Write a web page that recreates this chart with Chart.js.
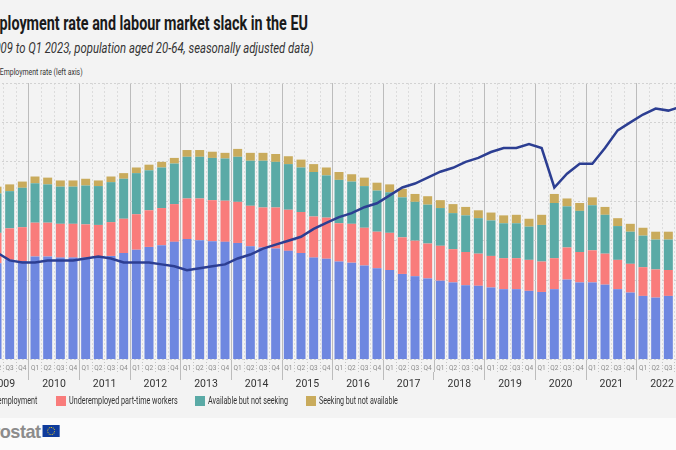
<!DOCTYPE html>
<html>
<head>
<meta charset="utf-8">
<script src="https://cdn.jsdelivr.net/npm/chart.js@4.4.1/dist/chart.umd.min.js"></script>
<style>
  html, body { margin: 0; padding: 0; width: 676px; height: 450px; overflow: hidden; background: #fbfbfb; }
  body { position: relative; font-family: Roboto, "Liberation Sans", sans-serif; color: #222; }
  #panel { position: absolute; left: 0; top: 0; width: 676px; height: 418px; background: #f3f3f3; }
  .txt { position: absolute; white-space: nowrap; transform-origin: 0 0; }
  #title { top: 11px; font-size: 20px; font-weight: bold; line-height: 24px; color: #1a1a1a; }
  #subtitle { top: 39px; font-size: 15px; font-style: italic; line-height: 18px; color: #333; }
  #lineLegend { top: 66px; font-size: 9.5px; line-height: 12px; color: #333; }
  #lineLegend .sw { display: inline-block; width: 18px; height: 3px; background: #2c3e92; vertical-align: middle; margin-right: 5px; }
  #wrap { position: absolute; left: -62px; top: 0; width: 802px; height: 400px; }
  .leg { position: absolute; top: 396px; height: 10px; }
  .leg .box { position: absolute; left: 0; top: 0; width: 10px; height: 10px; }
  .leg .t { position: absolute; left: 13px; top: -1px; font-size: 11px; line-height: 12px; color: #333; white-space: nowrap; transform-origin: 0 0; }
  #logo { top: 421px; font-family: "Liberation Sans", Arial, sans-serif; font-weight: bold; font-size: 19px; color: #8c8c8c; letter-spacing: -0.5px; line-height: 22px; }
  #logo .flag { display: inline-block; width: 18px; height: 12px; background: #0e3b9c; vertical-align: 1px; margin-left: 2px; position: relative; }
  #logo .flag::after { content: ""; position: absolute; left: 5px; top: 2px; width: 6px; height: 6px; border: 1px dotted #f4d21c; border-radius: 50%; }
</style>
</head>
<body>
<div id="panel"></div>
<div id="title" class="txt"><span class="cut">Em</span>ployment rate and labour market slack in the EU</div>
<div id="subtitle" class="txt"><span class="cut">(Q1 20</span>09 to Q1 2023, population aged 20-64, seasonally adjusted data)</div>
<div id="lineLegend" class="txt"><span class="cut"><span class="sw"></span></span>Employment rate (left axis)</div>
<div id="wrap"><canvas id="c"></canvas></div>
<div id="legend"></div>
<div id="logo" class="txt"><span class="cut">eur</span>ostat<span class="flag"></span></div>
<script>
const quarters = [
  '2009-Q1','2009-Q2','2009-Q3','2009-Q4','2010-Q1','2010-Q2','2010-Q3','2010-Q4',
  '2011-Q1','2011-Q2','2011-Q3','2011-Q4','2012-Q1','2012-Q2','2012-Q3','2012-Q4',
  '2013-Q1','2013-Q2','2013-Q3','2013-Q4','2014-Q1','2014-Q2','2014-Q3','2014-Q4',
  '2015-Q1','2015-Q2','2015-Q3','2015-Q4','2016-Q1','2016-Q2','2016-Q3','2016-Q4',
  '2017-Q1','2017-Q2','2017-Q3','2017-Q4','2018-Q1','2018-Q2','2018-Q3','2018-Q4',
  '2019-Q1','2019-Q2','2019-Q3','2019-Q4','2020-Q1','2020-Q2','2020-Q3','2020-Q4',
  '2021-Q1','2021-Q2','2021-Q3','2021-Q4','2022-Q1','2022-Q2','2022-Q3','2022-Q4',
  '2023-Q1'
];
const years = ['2009','2010','2011','2012','2013','2014','2015','2016','2017','2018','2019','2020','2021','2022','2023'];
// index of the middle of each year on the quarter axis
const yearCentres = [1.5, 5.5, 9.5, 13.5, 17.5, 21.5, 25.5, 29.5, 33.5, 37.5, 41.5, 45.5, 49.5, 53.5, 56];

// % of extended labour force (right axis)
const unemployment = [
  7.9, 8.5, 8.8, 8.7,   9.1, 9.1, 9.0, 9.0,   9.0, 9.0, 9.15, 9.4,   9.7, 9.95, 10.1, 10.4,
  10.65, 10.55, 10.45, 10.4,   10.3, 10.0, 9.9, 9.8,   9.6, 9.4, 9.0, 8.9,   8.65, 8.55, 8.3, 8.05,
  7.9, 7.55, 7.35, 7.15,   6.95, 6.8, 6.55, 6.5,   6.35, 6.2, 6.2, 6.05,   5.95, 6.2, 7.05, 6.8,
  6.8, 6.6, 6.2, 5.9,   5.6, 5.45, 5.6, 5.55,   5.6
];
const underemployed = [
  2.6, 2.7, 2.8, 3.0,   3.0, 3.0, 3.0, 3.0,   2.95, 2.9, 3.0, 3.05,   3.15, 3.25, 3.3, 3.35,
  3.6, 3.7, 3.65, 3.65,   3.65, 3.6, 3.55, 3.65,   3.65, 3.65, 3.65, 3.65,   3.4, 3.45, 3.35, 3.25,
  3.3, 3.25, 3.15, 3.1,   3.1, 2.95, 2.95, 2.85,   2.8, 2.75, 2.75, 2.75,   2.7, 2.75, 2.85, 2.7,
  2.85, 2.75, 2.6, 2.55,   2.55, 2.5, 2.3, 2.3,   2.35
];
const availableNotSeeking = [
  3.4, 3.5, 3.3, 3.5,   3.5, 3.4, 3.3, 3.3,   3.45, 3.45, 3.55, 3.55,   3.65, 3.55, 3.6, 3.6,
  3.7, 3.7, 3.75, 3.75,   4.0, 4.0, 4.15, 4.05,   4.05, 3.95, 3.95, 3.75,   3.85, 3.75, 3.7, 3.65,
  3.6, 3.55, 3.45, 3.45,   3.35, 3.2, 3.25, 3.15,   3.15, 3.1, 3.1, 2.95,   3.25, 4.9, 3.65, 3.65,
  4.0, 3.45, 3.0, 2.85,   2.8, 2.65, 2.7, 2.65,   2.7
];
const seekingNotAvailable = [
  0.6, 0.6, 0.6, 0.55,   0.6, 0.6, 0.55, 0.55,   0.6, 0.5, 0.5, 0.5,   0.5, 0.5, 0.5, 0.5,
  0.6, 0.6, 0.55, 0.5,   0.7, 0.7, 0.7, 0.7,   0.7, 0.7, 0.7, 0.7,   0.7, 0.65, 0.75, 0.7,
  0.7, 0.75, 0.7, 0.75,   0.7, 0.8, 0.75, 0.7,   0.7, 0.7, 0.75, 0.7,   0.9, 0.8, 0.7, 0.7,
  0.7, 0.7, 0.7, 0.7,   0.7, 0.7, 0.7, 0.7,   0.7
];
// % of population aged 20-64 (left axis)
const employmentRate = [
  67.6, 67.4, 67.0, 66.9,   66.9, 67.0, 67.0, 67.0,   67.1, 67.2, 67.1, 66.9,   66.9, 66.9, 66.8, 66.7,
  66.5, 66.6, 66.7, 66.8,   67.1, 67.3, 67.6, 67.8,   68.0, 68.2, 68.6, 68.9,   69.2, 69.4, 69.7, 69.9,
  70.3, 70.7, 70.9, 71.2,   71.5, 71.7, 72.0, 72.2,   72.5, 72.7, 72.7, 72.9,   72.7, 70.7, 71.4, 71.9,
  71.9, 72.7, 73.6, 74.0,   74.4, 74.7, 74.6, 74.8,   74.9
];

const barNames = ['Unemployment', 'Underemployed part-time workers', 'Available but not seeking', 'Seeking but not available'];
const barColors = ['#6e87e0', '#f97c7b', '#5aaaa6', '#c9ab5c'];
const barSeries = [unemployment, underemployed, availableNotSeeking, seekingNotAvailable];
const lineColor = '#2c3e92';

// the reference is a narrow condensed face: squeeze texts to its widths,
// and push the part that is cut off in the reference past the left edge
function fitText(el, visibleWidth) {
  const cut = el.querySelector('.cut');
  const cw = cut ? cut.offsetWidth : 0;
  const k = visibleWidth / (el.offsetWidth - cw);
  el.style.transform = 'scaleX(' + k + ')';
  el.style.left = (-cw * k) + 'px';
}
fitText(document.getElementById('title'), 308);
fitText(document.getElementById('subtitle'), 313);
fitText(document.getElementById('lineLegend'), 83);
fitText(document.getElementById('logo'), 60);

// bottom legend: text left edge and text width
const legendText = [null, { x: 69, w: 109 }, { x: 208, w: 80 }, { x: 319, w: 79 }];
const legend = document.getElementById('legend');
const items = barNames.map((name, i) => {
  const d = document.createElement('div');
  d.className = 'leg';
  d.innerHTML = '<span class="box" style="background:' + barColors[i] + '"></span><span class="t">' + name + '</span>';
  legend.appendChild(d);
  return d;
});
let kSum = 0;
items.forEach((d, i) => {
  if (!legendText[i]) return;
  const t = d.querySelector('.t');
  const k = legendText[i].w / t.offsetWidth;
  kSum += k;
  t.style.transform = 'scaleX(' + k + ')';
  d.style.left = (legendText[i].x - 13) + 'px';
});
{
  // first item: only the end of its text (at x = 37) is visible
  const t = items[0].querySelector('.t');
  const k = kSum / 3;
  t.style.transform = 'scaleX(' + k + ')';
  items[0].style.left = (37 - t.offsetWidth * k - 13) + 'px';
}

const isYearStart = ctx => ctx.index !== undefined && ctx.index % 4 === 0;

const datasets = [{
  type: 'line',
  label: 'Employment rate (left axis)',
  data: employmentRate,
  yAxisID: 'y',
  borderColor: lineColor,
  borderWidth: 2.5,
  pointRadius: 0,
  tension: 0,
  order: 0
}];
barSeries.forEach((s, i) => {
  datasets.push({
    type: 'bar',
    label: barNames[i],
    data: s,
    yAxisID: 'y1',
    backgroundColor: barColors[i],
    borderWidth: 0,
    barPercentage: 0.71,
    categoryPercentage: 1,
    order: 1
  });
});

new Chart(document.getElementById('c'), {
  data: { labels: quarters, datasets: datasets },
  options: {
    responsive: true,
    maintainAspectRatio: false,
    animation: false,
    layout: { padding: { top: 83, bottom: 0, left: 0, right: 0 } },
    plugins: { legend: { display: false }, tooltip: { enabled: false } },
    scales: {
      x: {
        stacked: true,
        weight: 0,
        grid: {
          offset: true,
          color: ctx => isYearStart(ctx) ? '#bcbcbc' : '#dcdcdc',
          tickColor: ctx => isYearStart(ctx) ? '#bcbcbc' : '#c4c4c4',
          tickLength: 13,
          tickBorderDash: ctx => isYearStart(ctx) ? [] : [1, 2]
        },
        border: { display: false, dash: ctx => isYearStart(ctx) ? [] : [2, 2] },
        ticks: {
          autoSkip: false,
          maxRotation: 0,
          padding: -8,
          color: '#8a8a8a',
          font: { family: 'Roboto, "Liberation Sans", sans-serif', size: 6.5 },
          callback: (v, i) => quarters[i].slice(5)
        },
        afterFit: s => { s.height = 13; }
      },
      x2: {
        type: 'linear',
        position: 'bottom',
        weight: 1,
        min: -0.5,
        max: quarters.length - 0.5,
        afterBuildTicks: s => { s.ticks = yearCentres.map(v => ({ value: v })); },
        grid: { offset: true, drawOnChartArea: false, color: '#bcbcbc', tickLength: 8 },
        border: { display: false },
        ticks: {
          autoSkip: false,
          maxRotation: 0,
          padding: -2,
          color: '#333',
          font: { family: 'Roboto, "Liberation Sans", sans-serif', size: 10.5 },
          callback: (v, i) => years[i]
        },
        afterFit: s => { s.height = 28; }
      },
      y: {
        position: 'left',
        min: 62,
        max: 76,
        ticks: { stepSize: 2, color: '#333', font: { size: 10 } },
        grid: { color: '#d2d2d2', drawTicks: false },
        border: { display: false, dash: [2, 2] },
        afterFit: s => { s.width = 40; }
      },
      y1: {
        position: 'right',
        stacked: true,
        min: 0,
        max: 24.5,
        ticks: { stepSize: 3.5, color: '#333', font: { size: 10 } },
        grid: { display: false },
        border: { display: false },
        afterFit: s => { s.width = 40; }
      }
    }
  }
});
</script>
</body>
</html>
